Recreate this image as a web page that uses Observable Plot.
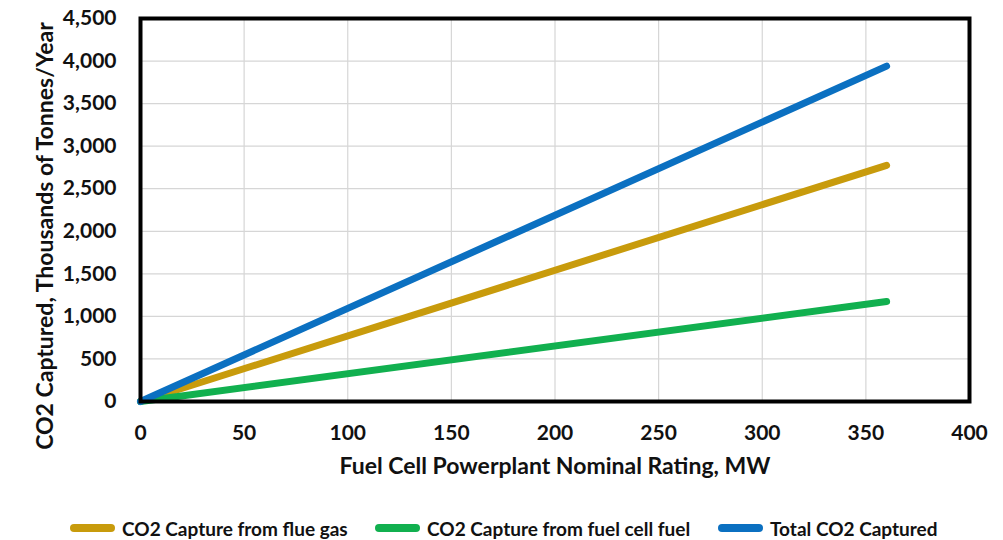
<!DOCTYPE html>
<html>
<head>
<meta charset="utf-8">
<script src="https://cdn.jsdelivr.net/npm/d3@7"></script>
<script src="https://cdn.jsdelivr.net/npm/@observablehq/plot@0.6"></script>
<style>
  html, body { margin: 0; padding: 0; background: #fff; }
  body { width: 1003px; height: 540px; overflow: hidden; font-family: Lato, "Open Sans", sans-serif; }
  #chart svg { display: block; }
  #legend { position: relative; height: 40px; font-family: Lato, sans-serif; font-weight: 700; font-size: 19px; color: #111; }
  .item { position: absolute; top: 17px; display: flex; align-items: center; height: 22px; white-space: nowrap; }
  .sw { width: 45px; height: 8px; border-radius: 4px; margin-right: 7px; }
</style>
</head>
<body>
<div id="chart"></div>
<div id="legend"></div>
<script>
// ---- data ----
const ratingMW = [0, 360];
const flueGas = [0, 2775];
const fuelCellFuel = [0, 1175];
const totalCaptured = [0, 3940];
const seriesNames = ["CO2 Capture from flue gas", "CO2 Capture from fuel cell fuel", "Total CO2 Captured"];
const seriesColors = ["#C89B0C", "#11B04F", "#0B70C1"];
const xTicks = [0, 50, 100, 150, 200, 250, 300, 350, 400];
const yTicks = [0, 500, 1000, 1500, 2000, 2500, 3000, 3500, 4000, 4500];
const xTitle = "Fuel Cell Powerplant Nominal Rating, MW";
const yTitle = "CO2 Captured, Thousands of Tonnes/Year";

const seriesValues = [flueGas, fuelCellFuel, totalCaptured];
const rows = [];
seriesNames.forEach((name, i) => {
  ratingMW.forEach((x, j) => rows.push({series: name, x, y: seriesValues[i][j]}));
});

const fontStyle = {fontFamily: "Lato, sans-serif", fontWeight: 700, fill: "#111"};

const chart = Plot.plot({
  width: 1003,
  height: 500,
  marginLeft: 140,
  marginRight: 34,
  marginTop: 18,
  marginBottom: 99,
  style: {fontFamily: "Lato, sans-serif", fontSize: "21px", fontWeight: 700, color: "#111", background: "#fff"},
  x: {domain: [0, 400]},
  y: {domain: [0, 4500]},
  color: {domain: seriesNames, range: seriesColors},
  marks: [
    Plot.gridX(xTicks, {stroke: "#d6d6d6", strokeOpacity: 1, strokeWidth: 1.2}),
    Plot.gridY(yTicks, {stroke: "#d6d6d6", strokeOpacity: 1, strokeWidth: 1.2}),
    Plot.line(rows, {x: "x", y: "y", z: "series", stroke: "series", strokeWidth: 7, strokeLinecap: "round"}),
    Plot.frame({stroke: "#000", strokeWidth: 4}),
    Plot.axisX(xTicks, {tickSize: 0, tickPadding: 24, label: null, fontSize: 21}),
    Plot.axisY(yTicks, {tickSize: 0, tickPadding: 24, label: null, tickFormat: d3.format(","), fontSize: 21}),
    Plot.text([xTitle], {frameAnchor: "bottom", dy: 72, fontSize: 23, textAnchor: "middle", ...fontStyle}),
    Plot.text([yTitle], {frameAnchor: "left", rotate: -90, dx: -95, dy: 26, fontSize: 23, textAnchor: "middle", ...fontStyle})
  ]
});
document.getElementById("chart").appendChild(chart);

// ---- legend ----
const legendLeft = [70, 375, 718];
const legend = document.getElementById("legend");
seriesNames.forEach((name, i) => {
  const item = document.createElement("div");
  item.className = "item";
  item.style.left = legendLeft[i] + "px";
  const sw = document.createElement("span");
  sw.className = "sw";
  sw.style.background = seriesColors[i];
  const t = document.createElement("span");
  t.textContent = name;
  item.appendChild(sw);
  item.appendChild(t);
  legend.appendChild(item);
});
</script>
</body>
</html>
